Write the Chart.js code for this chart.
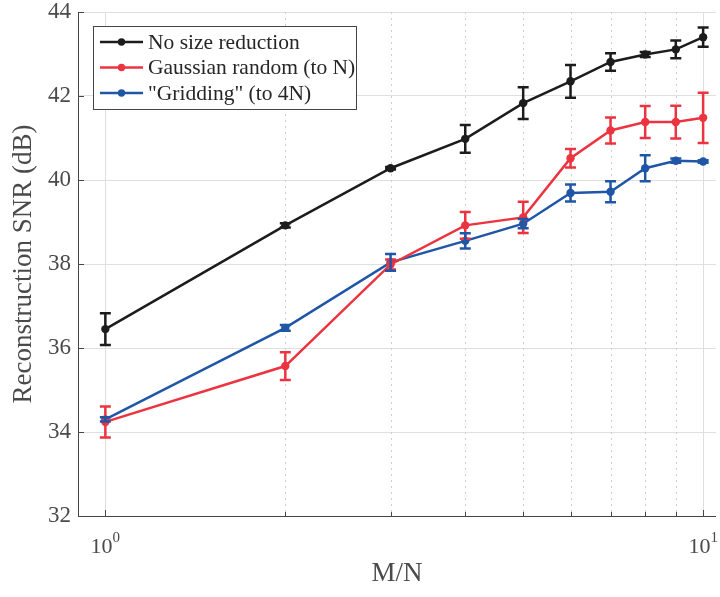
<!DOCTYPE html>
<html>
<head>
<meta charset="utf-8">
<script src="https://cdn.jsdelivr.net/npm/chart.js@4"></script>
<style>
  html, body { margin: 0; padding: 0; background: #fff; }
  #wrap { width: 720px; height: 597px; }
</style>
</head>
<body>
<div id="wrap"><canvas id="snrChart" width="720" height="597"></canvas></div>
<script>
var ratios = [1, 2, 3, 4, 5, 6, 7, 8, 9, 10];
var noReduction = [36.45, 38.92, 40.28, 40.98, 41.83, 42.35, 42.81, 42.99, 43.11, 43.40];
var noReductionErr = [0.38, 0.05, 0.03, 0.33, 0.38, 0.39, 0.21, 0.06, 0.21, 0.23];
var gaussian = [34.24, 35.57, 37.99, 38.92, 39.11, 40.52, 41.18, 41.38, 41.38, 41.48];
var gaussianErr = [0.37, 0.33, 0.12, 0.32, 0.37, 0.22, 0.31, 0.38, 0.39, 0.60];
var gridding = [34.30, 36.48, 38.04, 38.55, 38.96, 39.69, 39.72, 40.28, 40.46, 40.44];
var griddingErr = [0.05, 0.07, 0.20, 0.18, 0.11, 0.20, 0.25, 0.31, 0.05, 0.03];
var yTicks = [32, 34, 36, 38, 40, 42, 44];
// log decades labelled as base^exponent
var xDecades = [{ value: 1, base: '10', exp: '0' }, { value: 10, base: '10', exp: '1' }];

var serif = '"Liberation Serif", "DejaVu Serif", serif';
var axisColor = '#454545';
var textColor = '#4a4a4a';

function points(ys) {
    return ratios.map(function(x, i) { return { x: x, y: ys[i] }; });
}

function makeSet(label, ys, errs, color) {
    return {
        label: label,
        data: points(ys),
        errors: errs,
        borderColor: color,
        backgroundColor: color,
        borderWidth: 2.5,
        pointRadius: 4.2,
        pointBorderWidth: 0,
        pointBackgroundColor: color,
        tension: 0,
        fill: false
    };
}

// vertical error bars with caps
var errorBars = {
    id: 'errorBars',
    afterDatasetsDraw: function(chart) {
        var ctx = chart.ctx;
        var yScale = chart.scales.y;
        chart.data.datasets.forEach(function(ds, di) {
            var meta = chart.getDatasetMeta(di);
            ctx.save();
            ctx.strokeStyle = ds.borderColor;
            ctx.lineWidth = 2.5;
            meta.data.forEach(function(pt, i) {
                var v = ds.data[i].y, e = ds.errors[i];
                var top = yScale.getPixelForValue(v + e);
                var bot = yScale.getPixelForValue(v - e);
                ctx.beginPath();
                ctx.moveTo(pt.x, top); ctx.lineTo(pt.x, bot);
                ctx.moveTo(pt.x - 5.5, top); ctx.lineTo(pt.x + 5.5, top);
                ctx.moveTo(pt.x - 5.5, bot); ctx.lineTo(pt.x + 5.5, bot);
                ctx.stroke();
            });
            ctx.restore();
        });
    }
};

// log x grid (solid major, dotted minor), inward tick marks, decade labels, legend
var axisDecor = {
    id: 'axisDecor',
    beforeDatasetsDraw: function(chart) {
        var ctx = chart.ctx, area = chart.chartArea;
        var x = chart.scales.x, y = chart.scales.y;
        ctx.save();
        ratios.forEach(function(v) {
            var px = Math.round(x.getPixelForValue(v)) + 0.5;
            var major = (v === 1 || v === 10);
            ctx.beginPath();
            ctx.strokeStyle = major ? '#dedede' : '#cfcfcf';
            ctx.lineWidth = 1;
            ctx.setLineDash(major ? [] : [2, 4]);
            ctx.moveTo(px, area.top);
            ctx.lineTo(px, area.bottom);
            ctx.stroke();
        });
        ctx.setLineDash([]);
        ctx.strokeStyle = axisColor;
        ratios.forEach(function(v) {
            var px = Math.round(x.getPixelForValue(v)) + 0.5;
            var len = (v === 1 || v === 10) ? 6 : 4;
            ctx.beginPath();
            ctx.moveTo(px, area.bottom);
            ctx.lineTo(px, area.bottom - len);
            ctx.stroke();
        });
        yTicks.forEach(function(v) {
            var py = Math.round(y.getPixelForValue(v)) + 0.5;
            ctx.beginPath();
            ctx.moveTo(area.left, py);
            ctx.lineTo(area.left + 6, py);
            ctx.stroke();
        });
        ctx.restore();
    },
    afterDraw: function(chart) {
        var ctx = chart.ctx, area = chart.chartArea;
        var x = chart.scales.x;
        ctx.save();
        ctx.fillStyle = textColor;
        ctx.textBaseline = 'alphabetic';
        ctx.textAlign = 'left';
        xDecades.forEach(function(d) {
            var px = x.getPixelForValue(d.value);
            ctx.font = '22px ' + serif;
            var wb = ctx.measureText(d.base).width;
            ctx.font = '15px ' + serif;
            var we = ctx.measureText(d.exp).width;
            var left = px - (wb + we) / 2;
            ctx.font = '22px ' + serif;
            ctx.fillText(d.base, left, area.bottom + 37);
            ctx.font = '15px ' + serif;
            ctx.fillText(d.exp, left + wb, area.bottom + 26);
        });

        // legend box inside the plot, top-left
        var bx = 93.5, by = 26.5, bw = 263, bh = 83;
        ctx.fillStyle = '#fff';
        ctx.fillRect(bx, by, bw, bh);
        ctx.strokeStyle = axisColor;
        ctx.lineWidth = 1;
        ctx.strokeRect(bx, by, bw, bh);
        ctx.font = '21.5px ' + serif;
        ctx.textBaseline = 'middle';
        chart.data.datasets.forEach(function(ds, i) {
            var ry = 42 + i * 25.5;
            ctx.strokeStyle = ds.borderColor;
            ctx.lineWidth = 2.5;
            ctx.beginPath();
            ctx.moveTo(100, ry); ctx.lineTo(143, ry);
            ctx.stroke();
            ctx.fillStyle = ds.borderColor;
            ctx.beginPath();
            ctx.arc(121.5, ry, 3.7, 0, Math.PI * 2);
            ctx.fill();
            ctx.fillStyle = '#262626';
            ctx.fillText(ds.label, 148, ry + 1);
        });
        ctx.restore();
    }
};

new Chart(document.getElementById('snrChart').getContext('2d'), {
    type: 'line',
    data: {
        datasets: [
            makeSet('No size reduction', noReduction, noReductionErr, '#1c1c1c'),
            makeSet('Gaussian random (to N)', gaussian, gaussianErr, '#ec3440'),
            makeSet('"Gridding" (to 4N)', gridding, griddingErr, '#1f56a6')
        ]
    },
    options: {
        responsive: false,
        animation: false,
        layout: { padding: { top: 12, right: 4, left: 0, bottom: 0 } },
        plugins: {
            legend: { display: false },
            tooltip: { enabled: false }
        },
        scales: {
            x: {
                type: 'logarithmic',
                min: 0.9,
                max: 10.5,
                afterBuildTicks: function(scale) {
                    scale.ticks = ratios.map(function(v) { return { value: v, major: v === 1 || v === 10 }; });
                },
                afterFit: function(scale) {
                    scale.height = 81;
                    scale.paddingLeft = 0;
                    scale.paddingRight = 0;
                },
                grid: { display: false, drawOnChartArea: false, drawTicks: false },
                border: { display: true, color: axisColor, width: 1 },
                ticks: {
                    autoSkip: false,
                    maxRotation: 0,
                    callback: function() { return ''; }
                },
                title: {
                    display: true,
                    text: 'M/N',
                    color: textColor,
                    font: { family: serif, size: 27 },
                    padding: { top: 0, bottom: 7 }
                }
            },
            y: {
                min: 32,
                max: 44,
                afterBuildTicks: function(scale) {
                    scale.ticks = yTicks.map(function(v) { return { value: v }; });
                },
                afterFit: function(scale) {
                    scale.width = 78;
                    scale.paddingTop = 0;
                    scale.paddingBottom = 0;
                },
                grid: { color: '#e0e0e0', lineWidth: 1, drawTicks: false },
                border: { display: true, color: axisColor, width: 1 },
                ticks: {
                    padding: 7,
                    color: textColor,
                    font: { family: serif, size: 23 },
                    callback: function(value) { return value; }
                },
                title: {
                    display: true,
                    text: 'Reconstruction SNR (dB)',
                    color: textColor,
                    font: { family: serif, size: 27 },
                    padding: { top: 8, bottom: 0 }
                }
            }
        }
    },
    plugins: [errorBars, axisDecor]
});
</script>
</body>
</html>
